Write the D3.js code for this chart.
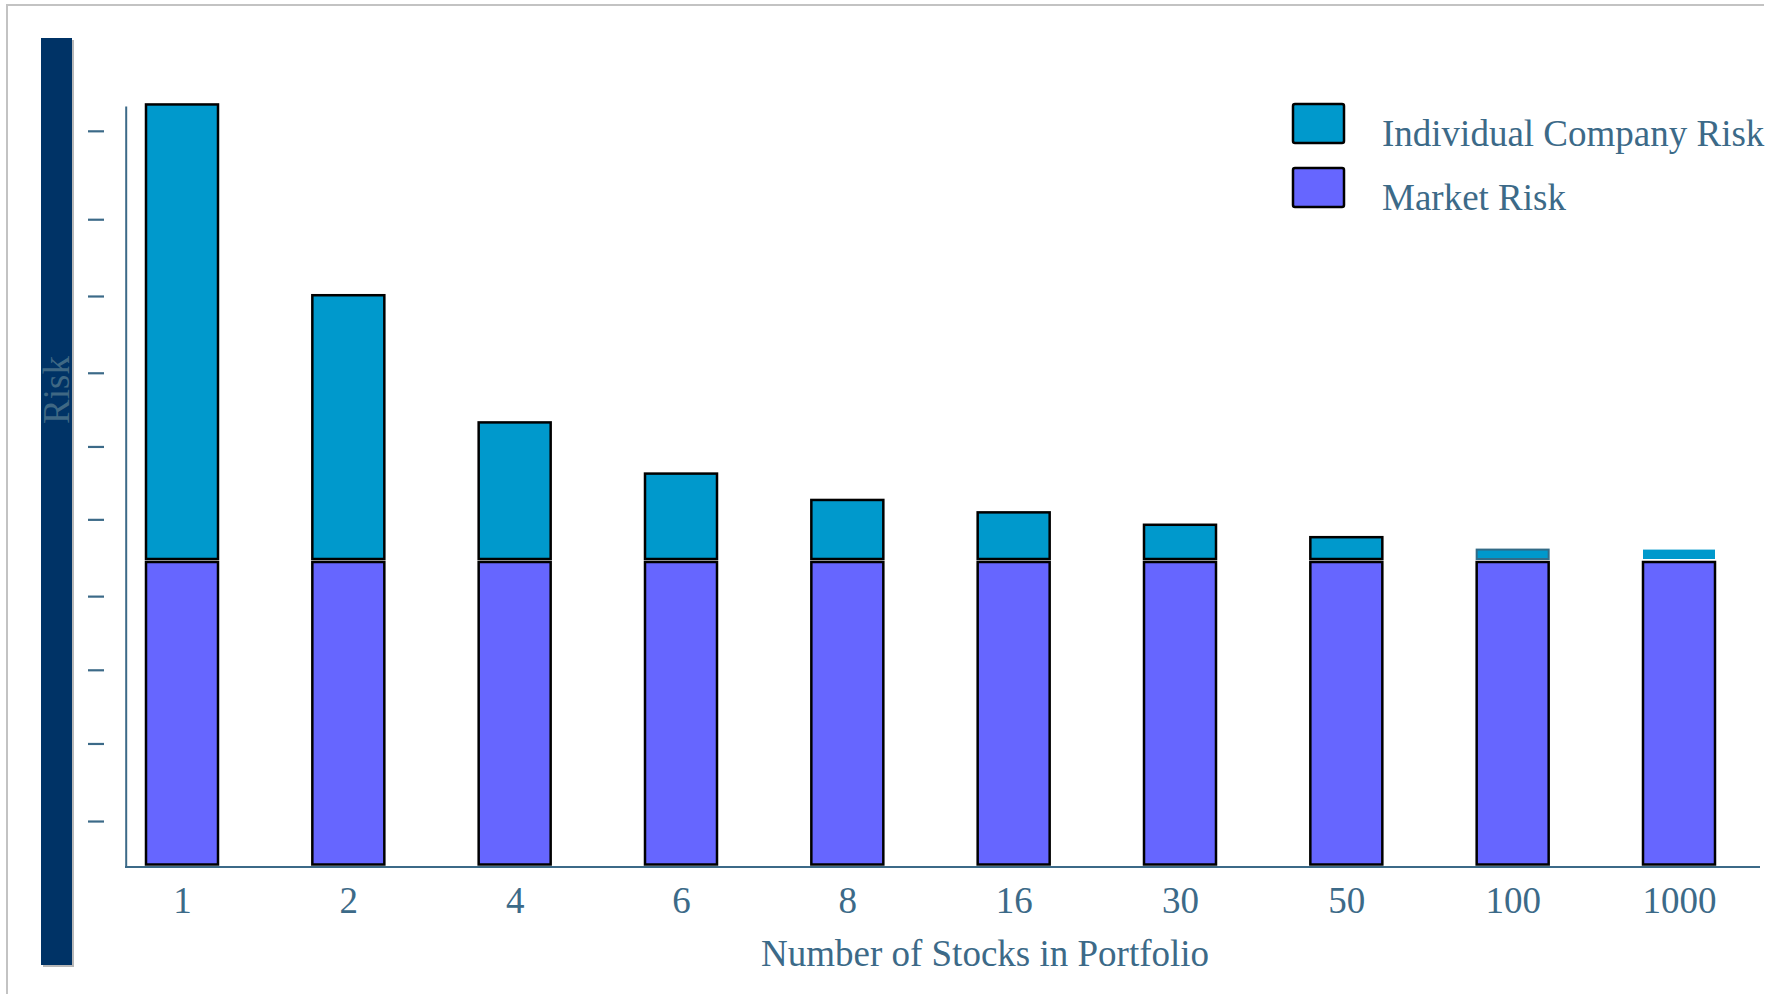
<!DOCTYPE html>
<html>
<head>
<meta charset="utf-8">
<title>Portfolio Risk vs. Number of Stocks</title>
<script src="https://cdn.jsdelivr.net/npm/d3@7"></script>
<style>
  html, body { margin: 0; padding: 0; background: #fff; }
  svg { display: block; }
  text { font-family: "Liberation Serif", "Times New Roman", serif; }
</style>
</head>
<body>
<svg id="chart" width="1790" height="994"></svg>
<script>
// Number of stocks held (category labels on the x axis)
const stockCounts = ["1", "2", "4", "6", "8", "16", "30", "50", "100", "1000"];
// Total portfolio risk (%) for each portfolio size
const totalRisk = [49.1, 36.8, 28.6, 25.3, 23.6, 22.8, 22.0, 21.2, 20.4, 20.4];
// Market (systematic) risk, the same for every portfolio size
const marketRisk = [19.6, 19.6, 19.6, 19.6, 19.6, 19.6, 19.6, 19.6, 19.6, 19.6];
// Unlabelled tick marks on the risk axis
const riskTicks = [2.9, 7.9, 12.65, 17.4, 22.35, 27.05, 31.8, 36.75, 41.7, 47.4];
// Legend entries
const seriesNames = ["Individual Company Risk", "Market Risk"];

const colors = { company: "#0099cc", market: "#6666ff" };
const slate = "#3c6a88";
const fontSize = 37;

const svg = d3.select("#chart");

// Frame lines (top and left)
svg.append("path")
  .attr("d", "M7,994V5H1764")
  .attr("fill", "none")
  .attr("stroke", "#c3c3c3")
  .attr("stroke-width", 2);

// Dark vertical band carrying the axis title, with a soft shadow
svg.append("rect").attr("x", 43).attr("y", 40).attr("width", 31).attr("height", 927).attr("fill", "#b8b8b8");
svg.append("rect").attr("x", 41).attr("y", 38).attr("width", 31).attr("height", 927).attr("fill", "#003366");
svg.append("text")
  .attr("transform", "translate(69,390) rotate(-90)")
  .attr("text-anchor", "middle")
  .attr("font-size", fontSize)
  .attr("fill", "#3f6884")
  .text("Risk");

// Scales
const x = d3.scalePoint().domain(stockCounts).range([182, 1679]);
const y = d3.scaleLinear().domain([0, 49]).range([866, 106]);
const barW = 72;

// Risk axis line
const yAxisG = svg.append("g").attr("transform", "translate(125.7,0)")
  .call(d3.axisLeft(y).tickValues([]).tickSizeOuter(0));
yAxisG.select(".domain").attr("stroke", slate).attr("stroke-width", 2);

// Detached tick marks left of the axis
const yTickG = svg.append("g").attr("transform", "translate(104,0)")
  .call(d3.axisLeft(y).tickValues(riskTicks).tickSize(16).tickFormat(""));
yTickG.select(".domain").remove();
yTickG.selectAll(".tick line").attr("stroke", slate).attr("stroke-width", 2.2);

// Data rows
const rows = stockCounts.map((k, i) => ({ k, i, total: totalRisk[i], market: marketRisk[i] }));

// Market risk bars
svg.append("g").selectAll("rect").data(rows).join("rect")
  .attr("x", d => x(d.k) - barW / 2)
  .attr("y", d => y(d.market))
  .attr("width", barW)
  .attr("height", d => y(0) - 1.5 - y(d.market))
  .attr("fill", colors.market)
  .attr("stroke", "#000")
  .attr("stroke-width", 2.5);

// Individual company risk stacked above
svg.append("g").selectAll("rect").data(rows).join("rect")
  .attr("x", d => x(d.k) - barW / 2)
  .attr("y", d => y(d.total))
  .attr("width", barW)
  .attr("height", d => Math.max(0, y(d.market) - 3 - y(d.total)))
  .attr("fill", colors.company)
  .attr("stroke", d => d.i === 8 ? "#336b87" : d.i === 9 ? "none" : "#000")
  .attr("stroke-width", d => d.i === 8 ? 2 : 2.5);

// Category axis
svg.append("line")
  .attr("x1", 125).attr("x2", 1760)
  .attr("y1", y(0) + 1).attr("y2", y(0) + 1)
  .attr("stroke", slate).attr("stroke-width", 2);

const xAxisG = svg.append("g").attr("transform", `translate(0,${y(0)})`)
  .call(d3.axisBottom(x).tickSize(0));
xAxisG.select(".domain").remove();
xAxisG.selectAll("text")
  .attr("y", 47)
  .attr("dy", null)
  .attr("font-size", fontSize)
  .attr("font-family", "'Liberation Serif', 'Times New Roman', serif")
  .attr("fill", slate);

svg.append("text")
  .attr("x", 985).attr("y", 966)
  .attr("text-anchor", "middle")
  .attr("font-size", fontSize)
  .attr("fill", slate)
  .text("Number of Stocks in Portfolio");

// Legend
const legend = svg.append("g").attr("transform", "translate(1293,104)");
const legendItems = legend.selectAll("g").data(seriesNames).join("g")
  .attr("transform", (d, i) => `translate(0,${i * 64})`);
legendItems.append("rect")
  .attr("width", 51).attr("height", 39).attr("rx", 2)
  .attr("fill", (d, i) => i === 0 ? colors.company : colors.market)
  .attr("stroke", "#000").attr("stroke-width", 2.5);
legendItems.append("text")
  .attr("x", 89).attr("y", 42)
  .attr("font-size", fontSize)
  .attr("fill", slate)
  .text(d => d);
</script>
</body>
</html>
